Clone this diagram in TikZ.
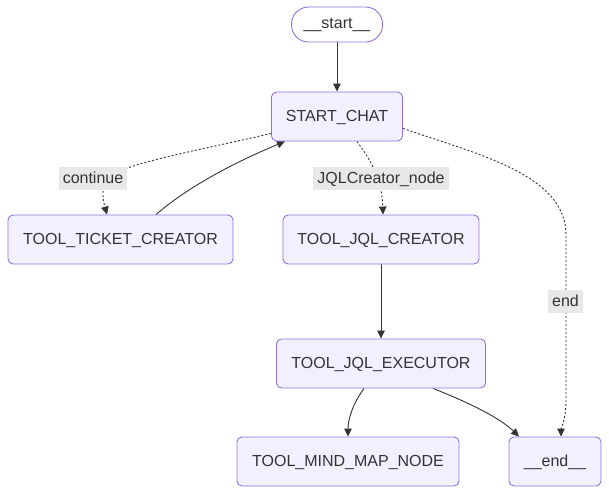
\documentclass[tikz,border=0pt]{standalone}
\usepackage{fontspec}
\setmainfont{Liberation Sans}
\usetikzlibrary{arrows.meta,calc}
\pgfdeclarelayer{bg}\pgfsetlayers{bg,main}
\definecolor{nodefill}{HTML}{F2F0FF}
\definecolor{nodeline}{HTML}{9370DB}
\definecolor{edgec}{HTML}{333333}
\definecolor{lblbg}{HTML}{E8E8E8}
\begin{document}
\begin{tikzpicture}[x=1pt,y=-1pt,
  font=\fontsize{16}{19}\selectfont,
  box/.style={draw=nodeline, fill=nodefill, rounded corners=5pt, line width=0.9pt,
    text=edgec, inner sep=0pt, minimum height=49pt, text height=12pt, text depth=3pt},
  pill/.style={box, fill=white, rounded corners=17pt, minimum height=35pt},
  lbl/.style={fill=lblbg, text=edgec, inner xsep=4pt, inner ysep=0pt, minimum height=23pt,
    text height=12pt, text depth=3pt},
  edge/.style={draw=edgec, line width=0.9pt, -{Triangle[length=8pt,width=7.5pt]}},
  cond/.style={edge, dash pattern=on 2pt off 2pt}]
\useasboundingbox (0,0) rectangle (609,495);

\node[pill, minimum width=91pt] (start) at (337,24.5) {\_\_start\_\_};
\node[box, minimum width=131pt] (sc) at (337,116.5) {START\_CHAT};
\node[box, minimum width=225pt] (tt) at (120.5,239.5) {TOOL\_TICKET\_CREATOR};
\node[box, minimum width=196pt] (jc) at (381,239.5) {TOOL\_JQL\_CREATOR};
\node[box, minimum width=209pt] (je) at (381,363.5) {TOOL\_JQL\_EXECUTOR};
\node[box, minimum width=222pt] (mm) at (348,461.5) {TOOL\_MIND\_MAP\_NODE};
\node[box, minimum width=92pt] (en) at (555,461.5) {\_\_end\_\_};

\node[lbl] (lc) at (93,178.5) {continue};
\node[lbl] (lj) at (381,178.5) {JQLCreator\_node};
\node[lbl] (le) at (565.5,301.5) {end};

\begin{pgfonlayer}{bg}
\draw[edge] (start.south) -- (sc.north);
\draw[cond] ([yshift=8pt]sc.south west) .. controls (210,148) and (130,162) .. (110,176)
  .. controls (100,185) and (103,200) .. ([xshift=-13.5pt]tt.north);
\draw[edge] ([xshift=35.5pt]tt.north) .. controls (190,185) and (240,160) .. ([xshift=-52pt]sc.south);
\draw[cond] ([xshift=20pt]sc.south) .. controls (372,162) and (382,180) .. ([xshift=2pt]jc.north);
\draw[cond] ([yshift=13pt]sc.south east) .. controls (480,155) and (566,175) .. (566,235)
  -- (566,400) .. controls (566,420) and (561,428) .. ([xshift=6pt]en.north);
\draw[edge] (jc.south) -- (je.north);
\draw[edge] ([xshift=-17pt]je.south) .. controls (352,405) and (348,420) .. (mm.north);
\draw[edge] ([xshift=52pt]je.south) .. controls (470,403) and (500,418) .. ([xshift=-36pt]en.north);
\end{pgfonlayer}
\end{tikzpicture}
\end{document}
